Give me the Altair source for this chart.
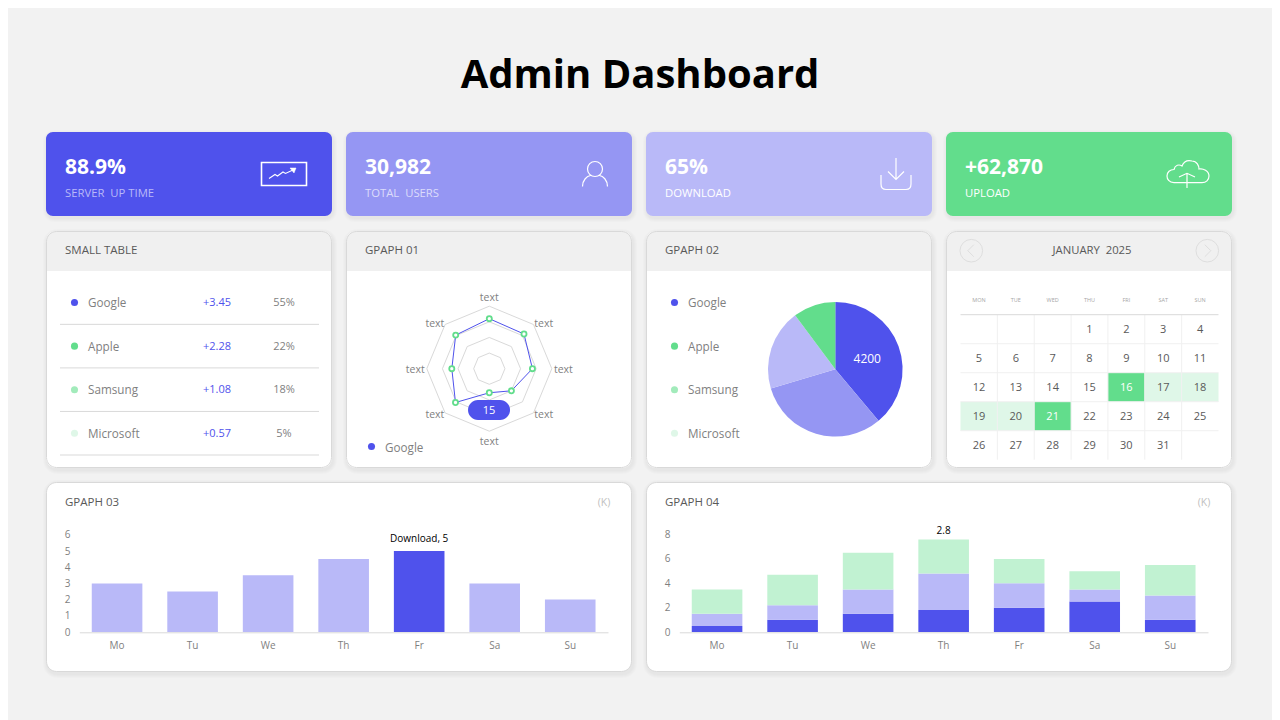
import math
import altair as alt
import pandas as pd

FONT = "Open Sans"
BG = "#f2f2f2"
DARK, MID, LIGHT, GREEN = "#4f52ec", "#9596f3", "#b9b9f8", "#62dd8c"
GREEN2, GREEN3 = "#a2ebbb", "#dff7e8"
PALE = "#c1f2d2"
GREY, GREY_D, LINE = "#7f7f7f", "#595959", "#d9d9d9"

# ---------- values ----------
KPI_VALUES = ["88.9%", "30,982", "65%", "+62,870"]
KPI_LABELS = ["SERVER\u00a0 UP TIME", "TOTAL\u00a0 USERS", "DOWNLOAD", "UPLOAD"]
BRANDS = ["Google", "Apple", "Samsung", "Microsoft"]
TABLE_CHANGE = ["+3.45", "+2.28", "+1.08", "+0.57"]
TABLE_SHARE = ["55%", "22%", "18%", "5%"]
RADAR_VALUES = [16, 15.7, 13.8, 10, 7.7, 15.3, 12, 15.2]
RADAR_RINGS = [5, 10, 15, 20]
RADAR_CALLOUT = "15"
PIE_VALUES = [4200, 3400, 2100, 1100]
WEEKDAYS = ["MON", "TUE", "WED", "THU", "FRI", "SAT", "SUN"]
MONTH_DAYS = list(range(1, 32))
STRONG_DAYS = [16, 21]
SOFT_DAYS = [17, 18, 19, 20]
DAYS = ["Mo", "Tu", "We", "Th", "Fr", "Sa", "Su"]
G3_VALUES = [3, 2.5, 3.5, 4.5, 5, 3, 2]
G4_A = [0.5, 1, 1.5, 1.8, 2, 2.5, 1]
G4_B = [1, 1.2, 2, 3, 2, 1, 2]
G4_C = [2, 2.5, 3, 2.8, 2, 1.5, 2.5]

ONE = alt.Data(values=[{"_": 0}])
W, H = 1264, 712


def X(v):
    return alt.value(v - 8)


def Y(v):
    return alt.value(v - 8)


layers = []


def rect(x0, y0, x1, y1, **kw):
    layers.append(alt.Chart(ONE).mark_rect(**kw).encode(x=X(x0), x2=X(x1), y=Y(y0), y2=Y(y1)))


def text(s, x, y, size=11, color=GREY, align="left", weight="normal"):
    layers.append(alt.Chart(ONE).mark_text(font=FONT, fontSize=size, fontWeight=weight, color=color,
                                           align=align, baseline="middle", dy=1)
                  .encode(x=X(x), y=Y(y), text=alt.value(s)))


def icon(path, x, y, width=1.2, color="white", filled=False):
    layers.append(alt.Chart(ONE).mark_point(shape=path, size=4, filled=filled, opacity=1,
                                            stroke=color, strokeWidth=width,
                                            **({"fill": color} if filled else {}))
                  .encode(x=X(x), y=Y(y)))


def shadow(x0, y0, x1, y1, r):
    for i in range(1, 5):
        rect(x0 - i + 1, y0 - i + 2, x1 + i + 1, y1 + i + 2, color="#000000", opacity=0.011,
             cornerRadius=r + i)


# ---------- page ----------
text("Admin Dashboard", 640, 75, size=40, color="#000000", align="center", weight="bold")

COLS = [46, 346, 646, 946]
KPI_FILL = [DARK, MID, LIGHT, GREEN]
KPI_SUB = ["#b9b9f8", "#dcdcfb", "#ffffff", "#ffffff"]
for i, c in enumerate(COLS):
    shadow(c, 132, c + 286, 216, 7)
    rect(c, 132, c + 286, 216, color=KPI_FILL[i], cornerRadius=7)
    text(KPI_VALUES[i], c + 19, 167, size=21, color="white", weight="bold")
    text(KPI_LABELS[i], c + 19, 193, size=11.3, color=KPI_SUB[i])

icon("M-22.5,-11.5H22.5V11.5H-22.5Z", 284, 174, width=1.6)
icon("M-15,4.5L-9,0.5L-6.5,2L-1,-2L1.5,-0.5L10,-4.5", 284, 174, width=1.1)
icon("M6,-6L12,-6L10,-1Z", 284, 174, filled=True, width=0.5)
icon("M-7.5,-5A7.5,7.5 0 1 1 7.5,-5A7.5,7.5 0 1 1 -7.5,-5ZM-12.5,12.5C-12.5,6 -8,2 -4.5,1.5M12.5,12.5C12.5,6 8,2 4.5,1.5",
     595, 174)
icon("M0,-16V5.5M-8,-2.5L0,5.5L8,-2.5M-15,1V10Q-15,15.5 -10,15.5H10Q15,15.5 15,10V1", 896, 174)
icon("M-14,8.7C-19,8.7 -21,5 -21,2C-21,-2 -18,-4.5 -14,-4.5C-13,-9 -9,-10 -6,-8C-4,-13 0,-14 4,-13"
     "C9,-13 11,-8 11,-5C15,-6 21,-3 21,2C21,6 18,8.7 14,8.7Z", 1188, 174)
icon("M-1,14V-0.7M-9,3L-1,-0.7L7,3", 1188, 174)

# panels, second row
HEADS = ["SMALL TABLE", "GPAPH 01", "GPAPH 02", None]
for i, c in enumerate(COLS):
    shadow(c, 231, c + 286, 468, 10)
    rect(c, 231, c + 286, 468, color="white", cornerRadius=10)
    rect(c, 231, c + 286, 271, color="#f0f0f0", cornerRadiusTopLeft=10, cornerRadiusTopRight=10)
    rect(c + 0.5, 231.5, c + 285.5, 467.5, fillOpacity=0, fill="white", stroke=LINE, strokeWidth=1, cornerRadius=10)
    if HEADS[i]:
        text(HEADS[i], c + 19, 250, size=11.5, color=GREY_D)
# panels, third row
for c0, title, ux in [(46, "GPAPH 03", 604), (646, "GPAPH 04", 1204)]:
    shadow(c0, 482, c0 + 586, 672, 10)
    rect(c0 + 0.5, 482.5, c0 + 585.5, 671.5, color="white", stroke=LINE, strokeWidth=1, cornerRadius=10)
    text(title, c0 + 19, 502, size=11.5, color=GREY_D)
    text("(K)", ux, 502, size=10.5, color="#bfbfbf", align="center")


# ---------- legend rows shared by table and pie ----------
def row_scale():
    return alt.Scale(domain=[0, 4], range=[280.8 - 8, 455 - 8], nice=False, zero=False)


brand_df = pd.DataFrame({"brand": BRANDS, "row": range(4), "change": TABLE_CHANGE, "share": TABLE_SHARE})
brand_df["mid"] = brand_df["row"] + 0.5
brand_df["end"] = brand_df["row"] + 1
brand_color = alt.Color("brand:N", legend=None,
                        scale=alt.Scale(domain=BRANDS, range=[DARK, GREEN, GREEN2, GREEN3]))
row_y = alt.Y("mid:Q", axis=None, scale=row_scale())

for dot_x, text_x in [(74.5, 88), (674.5, 688)]:
    layers.append(alt.Chart(brand_df).mark_point(filled=True, size=50, opacity=1)
                  .encode(x=X(dot_x), y=row_y, color=brand_color))
    layers.append(alt.Chart(brand_df).mark_text(font=FONT, fontSize=11.7, color=GREY, align="left", baseline="middle", dy=0.5)
                  .encode(x=X(text_x), y=row_y, text="brand:N"))
layers.append(alt.Chart(brand_df).mark_text(font=FONT, fontSize=11, color=DARK, align="center", baseline="middle", dy=0.5)
              .encode(x=X(217), y=row_y, text="change:N"))
layers.append(alt.Chart(brand_df).mark_text(font=FONT, fontSize=11, color=GREY, align="center", baseline="middle", dy=0.5)
              .encode(x=X(284), y=row_y, text="share:N"))
layers.append(alt.Chart(brand_df).mark_rule(color=LINE, strokeWidth=1)
              .encode(x=X(60), x2=X(319), y=alt.Y("end:Q", axis=None, scale=row_scale())))

# ---------- radar ----------
CX, CY, R = 489.3 - 8, 368.7 - 8, 62.5
rx = alt.Scale(domain=[-20, 20], range=[CX - R, CX + R], nice=False, zero=False)
ry = alt.Scale(domain=[-20, 20], range=[CY + R, CY - R], nice=False, zero=False)
n = len(RADAR_VALUES)
ring_df = pd.DataFrame([{"ring": r, "k": k} for r in RADAR_RINGS for k in range(n + 1)])
ring_df["v"] = ring_df["ring"]
radar_df = pd.DataFrame({"k": list(range(n)) + [n], "v": RADAR_VALUES + RADAR_VALUES[:1]})
polar = dict(px=f"datum.v*sin(datum.k*2*PI/{n})", py=f"datum.v*cos(datum.k*2*PI/{n})")
xq = alt.X("px:Q", axis=None, scale=rx)
yq = alt.Y("py:Q", axis=None, scale=ry)
layers.append(alt.Chart(ring_df).transform_calculate(**polar)
              .mark_line(color="#d9d9d9", strokeWidth=1)
              .encode(x=xq, y=yq, detail="ring:N", order="k:Q"))
layers.append(alt.Chart(radar_df).transform_calculate(**polar)
              .mark_line(color=DARK, strokeWidth=1)
              .encode(x=xq, y=yq, order="k:Q"))
layers.append(alt.Chart(radar_df.iloc[:n]).transform_calculate(**polar)
              .mark_point(filled=True, fill="white", stroke=GREEN, strokeWidth=1.8, size=26, opacity=1)
              .encode(x=xq, y=yq))
lab_df = pd.DataFrame({"k": range(n), "t": ["text"] * n})
layers.append(alt.Chart(lab_df).transform_calculate(
    lx=f"23.7*sin(datum.k*2*PI/{n})*(datum.k%2==1?1.04:1)",
    ly=f"23*cos(datum.k*2*PI/{n})*(datum.k%2==1?0.9:1)")
    .mark_text(font=FONT, fontSize=10.5, color=GREY, baseline="middle", dy=1)
    .encode(x=alt.X("lx:Q", axis=None, scale=rx), y=alt.Y("ly:Q", axis=None, scale=ry), text="t:N"))
rect(468, 400, 510, 420, color=DARK, cornerRadius=10)
text(RADAR_CALLOUT, 489, 409.5, size=11, color="white", align="center")
layers.append(alt.Chart(ONE).mark_point(filled=True, size=50, opacity=1, color=DARK).encode(x=X(371.5), y=Y(446.5)))
text(BRANDS[0], 385, 446.5, size=11.7)

# ---------- pie ----------
pie_df = pd.DataFrame({"brand": BRANDS, "value": PIE_VALUES, "idx": range(4)})
pie_color = alt.Color("brand:N", legend=None, scale=alt.Scale(domain=BRANDS, range=[DARK, MID, LIGHT, GREEN]))
layers.append(alt.Chart(pie_df).mark_arc(outerRadius=67.3)
              .encode(x=X(835.3), y=Y(369.3), theta=alt.Theta("value:Q", stack=True), order="idx:Q", color=pie_color))
layers.append(alt.Chart(pie_df).transform_calculate(lab="datum.idx===0 ? ''+datum.value : ''")
              .mark_text(radius=34, font=FONT, fontSize=12, color="white", baseline="middle", dy=1)
              .encode(x=X(835.3), y=Y(369.3), theta=alt.Theta("value:Q", stack=True), order="idx:Q", text="lab:N"))

# ---------- calendar ----------
text("JANUARY\u00a0 2025", 1092, 250, size=11.3, color=GREY_D, align="center")
for bx, chev in [(971.3, "M2.5,-6L-3.5,0L2.5,6"), (1207.3, "M-2.5,-6L3.5,0L-2.5,6")]:
    layers.append(alt.Chart(ONE).mark_point(shape="circle", size=511, stroke="#dedede", strokeWidth=1, filled=False, opacity=1)
                  .encode(x=X(bx), y=Y(250.7)))
    icon(chev, bx, 250.7, width=1, color="#dedede")

cx_scale = alt.Scale(domain=[0, 7], range=[960.5 - 8, 1218.5 - 8], nice=False, zero=False)
cy_scale = alt.Scale(domain=[0, 5], range=[314.7 - 8, 459.7 - 8], nice=False, zero=False)
cal_df = pd.DataFrame({"d": MONTH_DAYS})
cal_df["col"] = (cal_df["d"] + 2) % 7
cal_df["row"] = (cal_df["d"] + 2) // 7
cal_df["col2"] = cal_df["col"] + 1
cal_df["row2"] = cal_df["row"] + 1
cal_df["cm"] = cal_df["col"] + 0.5
cal_df["rm"] = cal_df["row"] + 0.5
cal_df["kind"] = ["strong" if d in STRONG_DAYS else "soft" if d in SOFT_DAYS else "plain" for d in MONTH_DAYS]
hi = cal_df[cal_df["kind"] != "plain"]
layers.append(alt.Chart(hi).mark_rect().encode(
    x=alt.X("col:Q", axis=None, scale=cx_scale), x2="col2:Q",
    y=alt.Y("row:Q", axis=None, scale=cy_scale), y2="row2:Q",
    color=alt.Color("kind:N", legend=None, scale=alt.Scale(domain=["strong", "soft"], range=[GREEN, GREEN3]))))
hl = pd.DataFrame({"r": [1, 2, 3, 4]})
layers.append(alt.Chart(hl).mark_rule(color="#f0f0f0", strokeWidth=1)
              .encode(x=X(960.5), x2=X(1218.5), y=alt.Y("r:Q", axis=None, scale=cy_scale)))
vl = pd.DataFrame({"c": [1, 2, 3, 4, 5, 6], "r0": [0] * 6, "r1": [5] * 6})
layers.append(alt.Chart(vl).mark_rule(color="#f0f0f0", strokeWidth=1)
              .encode(x=alt.X("c:Q", axis=None, scale=cx_scale),
                      y=alt.Y("r0:Q", axis=None, scale=cy_scale), y2="r1:Q"))
layers.append(alt.Chart(pd.DataFrame({"r": [0]})).mark_rule(color=LINE, strokeWidth=1)
              .encode(x=X(960.5), x2=X(1218.5), y=alt.Y("r:Q", axis=None, scale=cy_scale)))
wk_df = pd.DataFrame({"w": WEEKDAYS, "cm": [i + 0.5 for i in range(7)], "rm": [-0.5] * 7})
layers.append(alt.Chart(wk_df).mark_text(font=FONT, fontSize=5.5, color="#a6a6a6", baseline="middle")
              .encode(x=alt.X("cm:Q", axis=None, scale=cx_scale), y=alt.Y("rm:Q", axis=None, scale=cy_scale), text="w:N"))
layers.append(alt.Chart(cal_df).mark_text(font=FONT, fontSize=11, baseline="middle", dy=1)
              .encode(x=alt.X("cm:Q", axis=None, scale=cx_scale), y=alt.Y("rm:Q", axis=None, scale=cy_scale),
                      text="d:Q",
                      color=alt.condition("datum.kind==='strong'", alt.value("white"), alt.value(GREY_D))))

# ---------- bar charts ----------
AX = dict(domain=False, ticks=False, grid=False, labelFont=FONT, labelFontSize=10, labelColor=GREY,
          title=None, orient="left", zindex=1, labelPadding=2)


def band(x0, x1):
    return alt.Scale(domain=DAYS, range=[x0 - 8, x1 - 8], paddingInner=0.33, paddingOuter=0.165)


def x_axis():
    return alt.Axis(domain=True, domainColor=LINE, domainWidth=1, ticks=False, grid=False, labelFont=FONT,
                    labelFontSize=10, labelColor=GREY, title=None, orient="bottom", zindex=1, labelAngle=0,
                    labelPadding=8, offset=(632.3 - 8) - H)


g3_df = pd.DataFrame({"day": DAYS, "v": G3_VALUES})
g3_y = alt.Scale(domain=[0, 6], range=[632 - 8, 534.8 - 8], nice=False, zero=False)
layers.append(alt.Chart(g3_df).mark_bar().encode(
    x=alt.X("day:N", sort=DAYS, scale=band(79.3, 608), axis=x_axis()),
    y=alt.Y("v:Q", scale=g3_y, axis=alt.Axis(values=[0, 1, 2, 3, 4, 5, 6], offset=-(72 - 8), **AX)),
    color=alt.condition("datum.v===5", alt.value(DARK), alt.value(LIGHT))))
layers.append(alt.Chart(g3_df[g3_df["v"] == max(G3_VALUES)]).transform_calculate(lab="'Download, '+datum.v")
              .mark_text(font=FONT, fontSize=10, color="#000000", dy=-12, baseline="middle")
              .encode(x=alt.X("day:N", sort=DAYS, scale=band(79.3, 608), axis=None),
                      y=alt.Y("v:Q", scale=g3_y, axis=None), text="lab:N"))

g4_df = pd.DataFrame({"day": DAYS * 3, "s": ["a"] * 7 + ["b"] * 7 + ["c"] * 7, "v": G4_A + G4_B + G4_C})
g4_y = alt.Scale(domain=[0, 8], range=[632 - 8, 534.6 - 8], nice=False, zero=False)
layers.append(alt.Chart(g4_df).mark_bar().encode(
    x=alt.X("day:N", sort=DAYS, scale=band(679.3, 1208), axis=x_axis()),
    y=alt.Y("v:Q", stack="zero", scale=g4_y, axis=alt.Axis(values=[0, 2, 4, 6, 8], offset=-(672 - 8), **AX)),
    order="s:N",
    color=alt.Color("s:N", legend=None, scale=alt.Scale(domain=["a", "b", "c"], range=[DARK, LIGHT, PALE]))))
tot_df = pd.DataFrame({"day": DAYS, "total": [a + b + c for a, b, c in zip(G4_A, G4_B, G4_C)], "c": G4_C})
layers.append(alt.Chart(tot_df[tot_df["total"] == tot_df["total"].max()])
              .mark_text(font=FONT, fontSize=10, color="#000000", dy=-8.5, baseline="middle")
              .encode(x=alt.X("day:N", sort=DAYS, scale=band(679.3, 1208), axis=None),
                      y=alt.Y("total:Q", scale=g4_y, axis=None), text="c:Q"))

chart = (alt.layer(*layers)
         .resolve_scale(x="independent", y="independent", color="independent", theta="independent")
         .properties(width=W, height=H, padding=0, background=BG, autosize=alt.AutoSizeParams(type="none"))
         .configure_view(stroke=None))
chart.save("out.html", embed_options={"renderer": "svg", "actions": False})
